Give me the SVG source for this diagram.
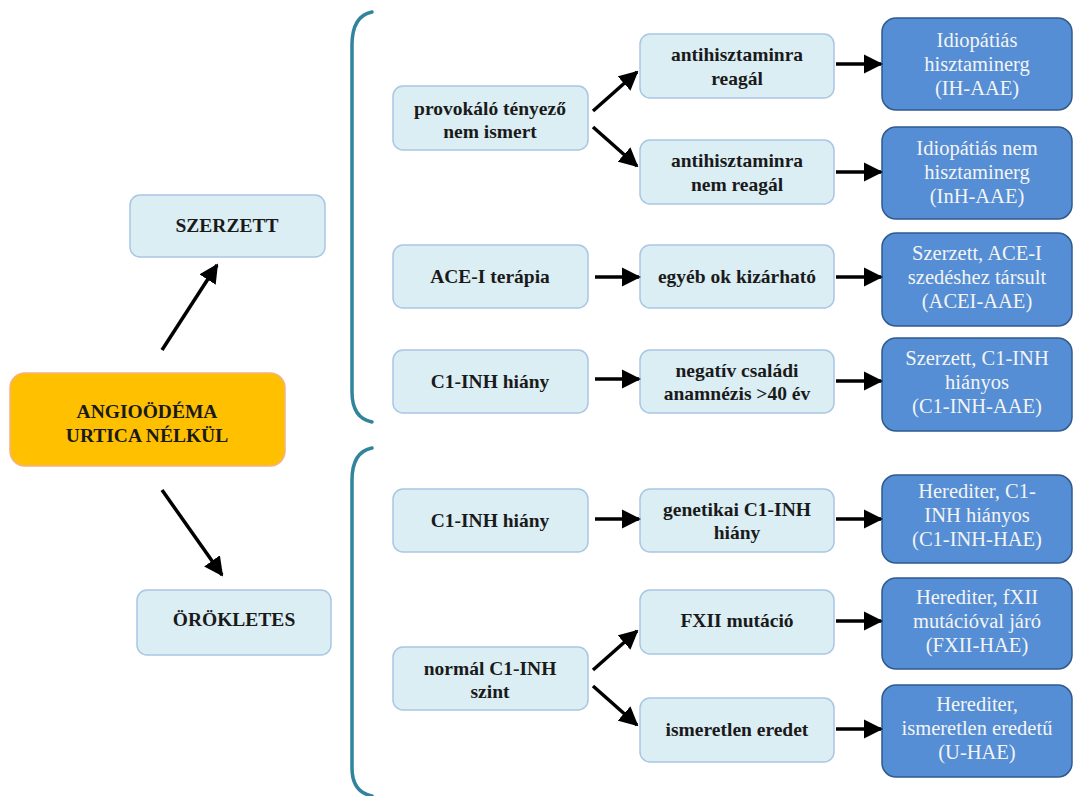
<svg xmlns="http://www.w3.org/2000/svg" width="1073" height="796" viewBox="0 0 1073 796" font-family="'Liberation Serif', 'DejaVu Serif', 'Times New Roman', serif">
<defs>
<marker id="ah" viewBox="0 0 10 10" refX="9" refY="5" markerWidth="5.5" markerHeight="5.5" orient="auto" markerUnits="strokeWidth">
<path d="M0,0 L10,5 L0,10 z" fill="#000"/>
</marker>
<style>
.lb{fill:#DBEEF4;stroke:#A9C6E4;stroke-width:1.5}
.db{fill:#558ED5;stroke:#2E5A8E;stroke-width:1.5}
.mn{fill:#FFC000;stroke:#F4B183;stroke-width:1.5}
.t{font-weight:bold;font-size:19.5px;fill:#1a1a1a;text-anchor:middle}
.w{font-size:20.5px;fill:#F4F4F4;text-anchor:middle}
.br{fill:none;stroke:#31849B;stroke-width:3.5;stroke-linecap:round}
.c{stroke:#000;stroke-width:3.5;fill:none;marker-end:url(#ah)}
</style>
</defs>
<rect width="1073" height="796" fill="#fff"/>

<g id="brackets">
<path class="br" d="M372,12 Q352,16 352,45 L352,392 Q352,418 372,422"/>
<path class="br" d="M372,448 Q352,452 352,480 L352,768 Q352,792 372,796"/>
</g>

<g id="main"><rect class="mn" x="10" y="373" width="275" height="93" rx="15"/>
<text class="t" x="147" y="418">ANGIOÖDÉMA</text><text class="t" x="147" y="442">URTICA NÉLKÜL</text></g>

<g id="szerzett"><rect class="lb" x="130" y="195" width="195" height="62" rx="10"/><text class="t" x="227" y="232">SZERZETT</text></g>
<g id="oroklet"><rect class="lb" x="137" y="590" width="194" height="65" rx="10"/><text class="t" x="234" y="626">ÖRÖKLETES</text></g>

<g id="provokalo"><rect class="lb" x="393" y="86" width="195" height="64" rx="10"/><text class="t" x="490" y="115">provokáló tényező</text><text class="t" x="490" y="138">nem ismert</text></g>
<g id="acei"><rect class="lb" x="393" y="245" width="195" height="63" rx="10"/><text class="t" x="490" y="283">ACE-I terápia</text></g>
<g id="c1inh1"><rect class="lb" x="393" y="350" width="195" height="63" rx="10"/><text class="t" x="490" y="388">C1-INH hiány</text></g>
<g id="c1inh2"><rect class="lb" x="393" y="489" width="195" height="63" rx="10"/><text class="t" x="490" y="527">C1-INH hiány</text></g>
<g id="normal"><rect class="lb" x="393" y="647" width="195" height="63" rx="10"/><text class="t" x="490" y="675">normál C1-INH</text><text class="t" x="490" y="698">szint</text></g>

<g id="reagal"><rect class="lb" x="640" y="34" width="194" height="64" rx="10"/><text class="t" x="737" y="61">antihisztaminra</text><text class="t" x="737" y="85">reagál</text></g>
<g id="nemreagal"><rect class="lb" x="640" y="140" width="194" height="64" rx="10"/><text class="t" x="737" y="167">antihisztaminra</text><text class="t" x="737" y="191">nem reagál</text></g>
<g id="egyeb"><rect class="lb" x="640" y="245" width="194" height="63" rx="10"/><text class="t" x="737" y="283">egyéb ok kizárható</text></g>
<g id="negativ"><rect class="lb" x="640" y="350" width="194" height="63" rx="10"/><text class="t" x="737" y="377">negatív családi</text><text class="t" x="737" y="400">anamnézis &gt;40 év</text></g>
<g id="genetikai"><rect class="lb" x="640" y="489" width="194" height="63" rx="10"/><text class="t" x="737" y="516">genetikai C1-INH</text><text class="t" x="737" y="539">hiány</text></g>
<g id="fxii"><rect class="lb" x="640" y="590" width="194" height="64" rx="10"/><text class="t" x="737" y="627">FXII mutáció</text></g>
<g id="ismeretlen"><rect class="lb" x="640" y="698" width="194" height="64" rx="10"/><text class="t" x="737" y="736">ismeretlen eredet</text></g>

<g id="ih"><rect class="db" x="882" y="18" width="190" height="92" rx="14"/><text class="w" x="977" y="47">Idiopátiás</text><text class="w" x="977" y="71">hisztaminerg</text><text class="w" x="977" y="95">(IH-AAE)</text></g>
<g id="inh"><rect class="db" x="882" y="127" width="190" height="92" rx="14"/><text class="w" x="977" y="155">Idiopátiás nem</text><text class="w" x="977" y="179">hisztaminerg</text><text class="w" x="977" y="203">(InH-AAE)</text></g>
<g id="acei-aae"><rect class="db" x="882" y="233" width="190" height="93" rx="14"/><text class="w" x="977" y="260">Szerzett, ACE-I</text><text class="w" x="977" y="284">szedéshez társult</text><text class="w" x="977" y="308">(ACEI-AAE)</text></g>
<g id="c1inh-aae"><rect class="db" x="882" y="338" width="190" height="93" rx="14"/><text class="w" x="977" y="365">Szerzett, C1-INH</text><text class="w" x="977" y="389">hiányos</text><text class="w" x="977" y="413">(C1-INH-AAE)</text></g>
<g id="c1inh-hae"><rect class="db" x="882" y="475" width="190" height="88" rx="14"/><text class="w" x="977" y="498">Herediter, C1-</text><text class="w" x="977" y="522">INH hiányos</text><text class="w" x="977" y="546">(C1-INH-HAE)</text></g>
<g id="fxii-hae"><rect class="db" x="882" y="578" width="190" height="91" rx="14"/><text class="w" x="977" y="604">Herediter, fXII</text><text class="w" x="977" y="628">mutációval járó</text><text class="w" x="977" y="652">(FXII-HAE)</text></g>
<g id="u-hae"><rect class="db" x="882" y="685" width="190" height="92" rx="14"/><text class="w" x="977" y="711">Herediter,</text><text class="w" x="977" y="735">ismeretlen eredetű</text><text class="w" x="977" y="759">(U-HAE)</text></g>

<g id="connectors">
<line class="c" x1="162" y1="350" x2="217" y2="265"/>
<line class="c" x1="162" y1="490" x2="222" y2="575"/>
<line class="c" x1="593" y1="111" x2="637" y2="72"/>
<line class="c" x1="593" y1="127" x2="637" y2="166"/>
<line class="c" x1="595" y1="277" x2="639" y2="277"/>
<line class="c" x1="595" y1="379" x2="639" y2="379"/>
<line class="c" x1="595" y1="519" x2="639" y2="519"/>
<line class="c" x1="593" y1="670" x2="637" y2="631"/>
<line class="c" x1="593" y1="686" x2="637" y2="725"/>
<line class="c" x1="836" y1="64" x2="881" y2="64"/>
<line class="c" x1="836" y1="172" x2="881" y2="172"/>
<line class="c" x1="836" y1="277" x2="881" y2="277"/>
<line class="c" x1="836" y1="381" x2="881" y2="381"/>
<line class="c" x1="836" y1="519" x2="881" y2="519"/>
<line class="c" x1="836" y1="621" x2="881" y2="621"/>
<line class="c" x1="836" y1="729" x2="881" y2="729"/>
</g>
</svg>
